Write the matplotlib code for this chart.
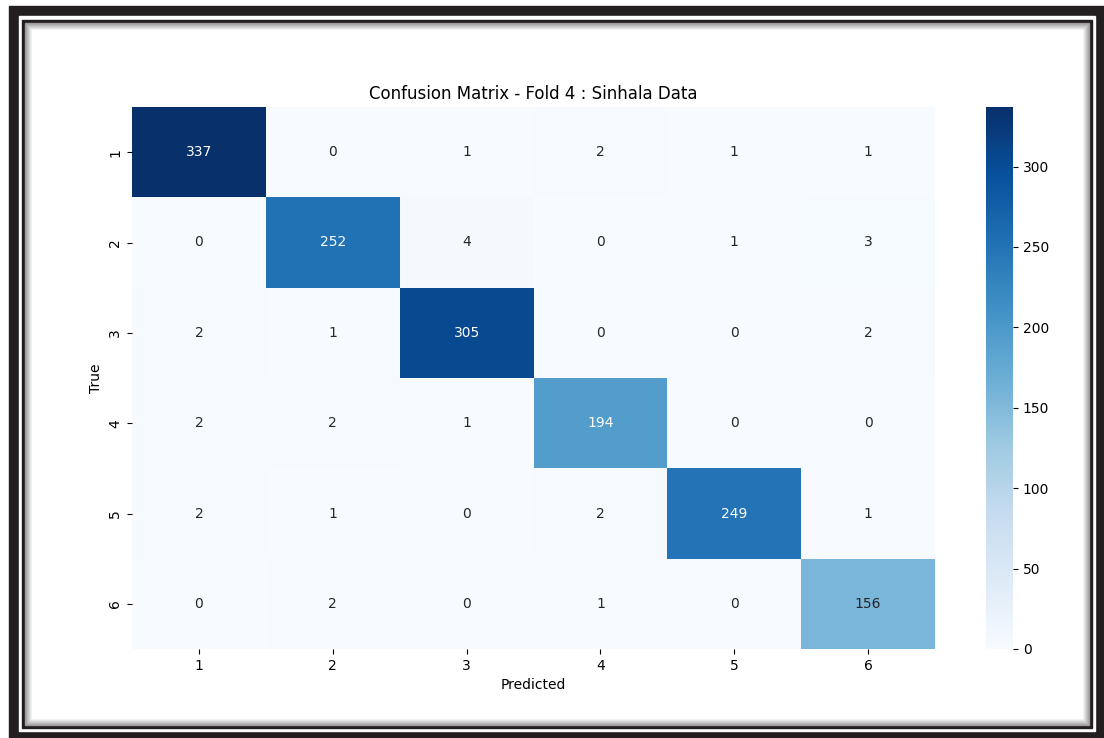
import numpy as np
import matplotlib
matplotlib.use("Agg")
import matplotlib.pyplot as plt
import seaborn as sns
from matplotlib.patches import Rectangle

# confusion matrix values (rows = true, cols = predicted)
labels = ["1", "2", "3", "4", "5", "6"]
row1 = [337, 0, 1, 2, 1, 1]
row2 = [0, 252, 4, 0, 1, 3]
row3 = [2, 1, 305, 0, 0, 2]
row4 = [2, 2, 1, 194, 0, 0]
row5 = [2, 1, 0, 2, 249, 1]
row6 = [0, 2, 0, 1, 0, 156]
cm = np.array([row1, row2, row3, row4, row5, row6])

W, H = 1104, 738
fig = plt.figure(figsize=(W / 100, H / 100), dpi=100)

# picture frame behind everything
bg = fig.add_axes([0, 0, 1, 1], zorder=-5)
bg.set_xlim(0, W)
bg.set_ylim(H, 0)
bg.axis("off")
bg.add_patch(Rectangle((9, 6), W - 9, H - 6, color="#231f20"))
bg.add_patch(Rectangle((19, 16), 1095 - 19, 731 - 16, color="white"))
bg.add_patch(Rectangle((22, 20), 1092 - 22, 728 - 20, color="#231f20"))
# soft grey shadow inside the thin line
for i, g in enumerate(np.linspace(0.6, 1.0, 8)):
    bg.add_patch(Rectangle((25 + i, 23 + i), 1089 - 25 - 2 * i, 725 - 23 - 2 * i,
                           color=(g, g, g)))

ax = fig.add_axes([132 / W, 1 - 649 / H, 803 / W, 542 / H])
cax = fig.add_axes([986 / W, 1 - 649 / H, 27 / W, 542 / H])
sns.heatmap(cm, annot=True, fmt="d", cmap="Blues", ax=ax, cbar_ax=cax,
            xticklabels=labels, yticklabels=labels,
            annot_kws={"fontsize": 10})
ax.set_yticklabels(labels, rotation=90, va="center", fontsize=10)
ax.set_xticklabels(labels, rotation=0, fontsize=10)
ax.set_xlabel("Predicted", fontsize=10)
ax.set_ylabel("True", fontsize=10)
ax.set_title("Confusion Matrix - Fold 4 : Sinhala Data", fontsize=12)
cax.tick_params(labelsize=10)

fig.savefig("out.png", dpi=100)
